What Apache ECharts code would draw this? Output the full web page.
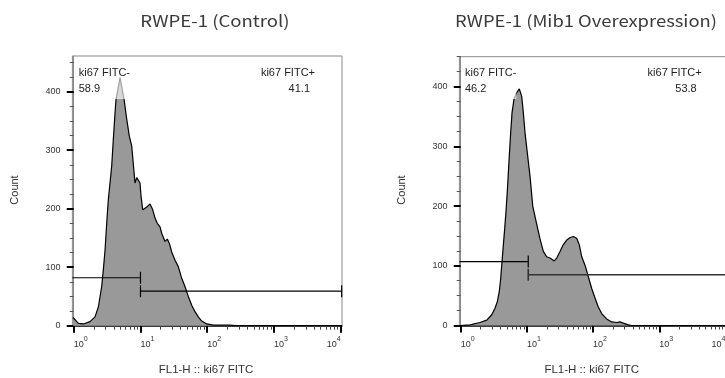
<!DOCTYPE html>
<html>
<head>
<meta charset="utf-8">
<script src="https://cdn.jsdelivr.net/npm/echarts@6/dist/echarts.min.js"></script>
<style>html,body{margin:0;padding:0;background:#fff}#c{width:725px;height:378px}</style>
</head>
<body>
<div id="c"></div>
<script>
// ---- data (x in log10 units of FL1-H, y = Count) ----
const leftX = [-0.01, 0.069, 0.144, 0.244, 0.319, 0.369, 0.419, 0.443, 0.469, 0.494, 0.518, 0.533, 0.569, 0.593, 0.619, 0.634, 0.694, 0.754, 0.794, 0.833, 0.869, 0.918, 0.944, 0.968, 0.993, 1.008, 1.034, 1.094, 1.143, 1.184, 1.218, 1.252, 1.293, 1.318, 1.368, 1.402, 1.432, 1.468, 1.518, 1.567, 1.618, 1.667, 1.717, 1.768, 1.817, 1.867, 1.918, 1.993, 2.091, 2.34, 2.42, 4.02];
const leftY = [14, 4, 3, 7, 15, 32, 67, 95, 129, 175, 215, 232, 273, 318, 364, 387, 424, 387, 353, 324, 307, 244, 253, 256, 244, 222, 198, 203, 208, 198, 184, 175, 169, 158, 144, 148, 141, 126, 112, 101, 81, 67, 50, 35, 24, 15, 8, 3, 1, 1, 0, 0];
const rightX = [-0.01, 0.14, 0.29, 0.393, 0.468, 0.518, 0.553, 0.583, 0.604, 0.624, 0.644, 0.665, 0.684, 0.704, 0.734, 0.755, 0.775, 0.805, 0.846, 0.885, 0.921, 0.946, 0.971, 1.006, 1.047, 1.088, 1.157, 1.198, 1.248, 1.299, 1.349, 1.414, 1.45, 1.5, 1.548, 1.601, 1.649, 1.701, 1.752, 1.792, 1.828, 1.878, 1.927, 1.979, 2.029, 2.079, 2.13, 2.205, 2.281, 2.356, 2.406, 2.456, 2.532, 2.583, 4.05];
const rightY = [0, 1, 5, 9, 18, 29, 40, 57, 79, 107, 135, 163, 191, 225, 284, 323, 356, 379, 390, 396, 384, 356, 323, 289, 250, 200, 165, 145, 124, 115, 113, 108, 113, 124, 135, 143, 147, 149, 146, 135, 115, 101, 82, 62, 46, 31, 20, 11, 6, 5, 6, 4, 1, 0, 0];

// gates: [xStart, xEnd, countLevel, tickAtStart, tickAtEnd]
const leftGates = [[-0.02, 1.0, 82, 0, 1], [1.0, 4.015, 59, 1, 1]];
const rightGates = [[-0.02, 1.02, 107, 0, 1], [1.02, 4.05, 85, 1, 0]];

const titles = ['RWPE-1 (Control)', 'RWPE-1 (Mib1 Overexpression)'];
const negLabel = 'ki67 FITC-', posLabel = 'ki67 FITC+';
const leftPct = ['58.9', '41.1'];
const rightPct = ['46.2', '53.8'];

const xMajor = [0, 1, 2, 3, 4];
const minorMult = [2, 3, 4, 5, 6, 7, 8, 9];
const decades = [0, 1, 2, 3];
const yMajor = [0, 100, 200, 300, 400];
const yMinor = [25, 50, 75, 125, 150, 175, 225, 250, 275, 325, 350, 375, 425, 450];
const xName = 'FL1-H :: ki67 FITC', yName = 'Count';

// ---- build ----
const xMinor = [];
decades.forEach(d => minorMult.forEach(m => xMinor.push(d + Math.log10(m))));
const pairs = (xs, ys) => xs.map((x, i) => [x, ys[i]]);

const FONT = 'Liberation Sans, Arial, sans-serif';
function xAxes(gi, min, max) {
  return [{
    gridIndex: gi, type: 'value', min: min, max: max,
    axisLine: {show: true, onZero: false, lineStyle: {color: '#000', width: 1.5}},
    axisTick: {show: true, customValues: xMajor, length: 7, lineStyle: {color: '#000', width: 2}},
    axisLabel: {
      show: true, customValues: xMajor, margin: 10, align: 'left', alignMaxLabel: 'right',
      formatter: v => '{a|10}{b|' + Math.round(v) + '}',
      rich: {a: {fontSize: 9, lineHeight: 18, fontFamily: FONT, color: '#333'},
             b: {fontSize: 7, lineHeight: 6, verticalAlign: 'top', fontFamily: FONT, color: '#333'}}
    },
    splitLine: {show: false}
  }, {
    gridIndex: gi, type: 'value', min: min, max: max, position: 'bottom',
    axisLine: {show: false},
    axisTick: {show: true, customValues: xMinor, length: 4, lineStyle: {color: '#444', width: 1}},
    axisLabel: {show: false}, splitLine: {show: false}
  }];
}
function yAxes(gi, max) {
  return [{
    gridIndex: gi, type: 'value', min: 0, max: max,
    axisLine: {show: true, lineStyle: {color: '#8a8a8a', width: 1}},
    axisTick: {show: true, customValues: yMajor, length: 7, lineStyle: {color: '#000', width: 2}},
    axisLabel: {show: true, customValues: yMajor, margin: 12, fontSize: 9, fontFamily: FONT, color: '#333'},
    splitLine: {show: false}
  }, {
    gridIndex: gi, type: 'value', min: 0, max: max, position: 'left',
    axisLine: {show: false},
    axisTick: {show: true, customValues: yMinor, length: 4, lineStyle: {color: '#555', width: 1}},
    axisLabel: {show: false}, splitLine: {show: false}
  }];
}
function histSeries(xi, yi, data) {
  return {
    type: 'line', xAxisIndex: xi, yAxisIndex: yi, data: data,
    symbol: 'none', showSymbol: false, smooth: false,
    itemStyle: {color: '#000'},
    lineStyle: {color: '#000', width: 1.2},
    areaStyle: {color: '#999999', opacity: 1}, z: 2
  };
}
function gateSeries(xi, yi, data, color, width) {
  return {
    type: 'custom', xAxisIndex: xi, yAxisIndex: yi, data: data, z: 5, clip: false,
    renderItem: (params, api) => {
      const p0 = api.coord([api.value(0), api.value(2)]);
      const p1 = api.coord([api.value(1), api.value(2)]);
      const st = {stroke: color, lineWidth: width};
      const ch = [{type: 'line', shape: {x1: p0[0], y1: p0[1], x2: p1[0], y2: p1[1]}, style: st}];
      if (api.value(3)) ch.push({type: 'line', shape: {x1: p0[0], y1: p0[1] - 6, x2: p0[0], y2: p0[1] + 6}, style: st});
      if (api.value(4)) ch.push({type: 'line', shape: {x1: p1[0], y1: p1[1] - 6, x2: p1[0], y2: p1[1] + 6}, style: st});
      return {type: 'group', children: ch};
    }
  };
}
function txt(x, y, text, opts) {
  return Object.assign({type: 'text', x: x, y: y, z: 100, silent: true,
    style: Object.assign({text: text, fill: '#222', fontSize: 11, fontFamily: FONT, align: 'left', verticalAlign: 'middle'}, opts || {})});
}

const chart = echarts.init(document.getElementById('c'), null, {renderer: 'canvas'});
const gridStyle = {show: true, borderColor: '#8a8a8a', borderWidth: 1, backgroundColor: 'transparent', containLabel: false, outerBoundsMode: 'none'};
const titleStyle = {align: 'center', fontSize: 16, fontFamily: 'Noto Sans CJK SC, sans-serif', fill: '#3a3a3a'};
chart.setOption({
  animation: false,
  backgroundColor: '#fff',
  grid: [
    Object.assign({left: 72.4, top: 56, width: 269.6, height: 269.7}, gridStyle),
    Object.assign({left: 459.4, top: 56.7, width: 267.4, height: 268.8}, gridStyle)
  ],
  xAxis: [].concat(xAxes(0, -0.02, 4.02), xAxes(1, -0.02, 4.02)),
  yAxis: [].concat(yAxes(0, 461), yAxes(1, 450)),
  series: [
    histSeries(0, 0, pairs(leftX, leftY)),
    gateSeries(0, 0, leftGates, '#000', 1.2),
    histSeries(2, 2, pairs(rightX, rightY)),
    gateSeries(2, 2, rightGates.slice(0, 1), '#000', 1.2),
    gateSeries(2, 2, rightGates.slice(1), '#333', 1.6)
  ],
  graphic: [
    Object.assign(txt(215, 21, titles[0], titleStyle), {scaleX: 1.16}),
    Object.assign(txt(586, 21, titles[1], titleStyle), {scaleX: 1.15}),
    Object.assign(txt(15, 190, yName, {align: 'center', fill: '#333'}), {rotation: Math.PI / 2}),
    Object.assign(txt(401.7, 190, yName, {align: 'center', fill: '#333'}), {rotation: Math.PI / 2}),
    txt(206, 370, xName, {align: 'center', fill: '#333', fontSize: 11.5}),
    txt(591.7, 370, xName, {align: 'center', fill: '#333', fontSize: 11.5}),
    txt(77.7, 63, negLabel + '\n' + leftPct[0], {verticalAlign: 'top', lineHeight: 16, backgroundColor: 'rgba(255,255,255,0.63)', padding: [2, 1, 2, 1]}),
    txt(315, 73, posLabel, {align: 'right'}),
    txt(310, 89, leftPct[1], {align: 'right'}),
    txt(464, 63, negLabel + '\n' + rightPct[0], {verticalAlign: 'top', lineHeight: 16, backgroundColor: 'rgba(255,255,255,0.63)', padding: [2, 0, 2, 1]}),
    txt(701.7, 73, posLabel, {align: 'right'}),
    txt(696.7, 89, rightPct[1], {align: 'right'})
  ]
});
</script>
</body>
</html>
